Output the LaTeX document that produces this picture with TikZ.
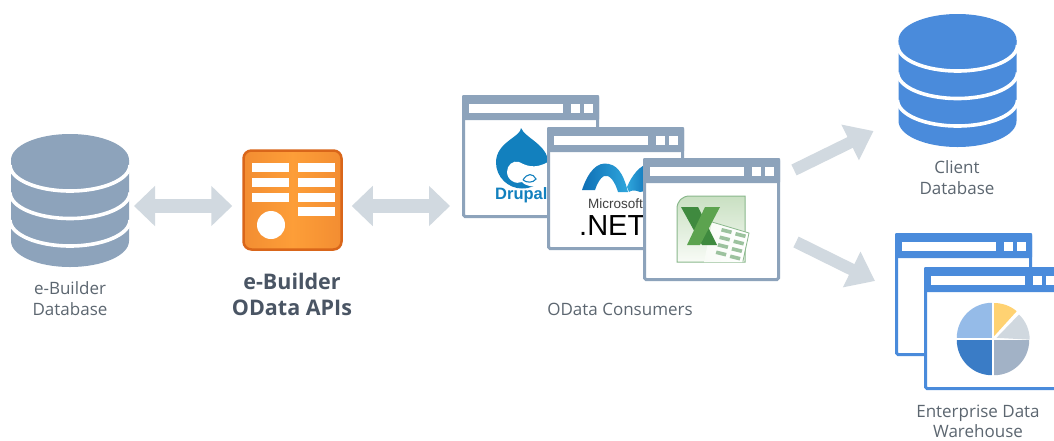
\documentclass[tikz,border=0pt]{standalone}
\usepackage{fontspec}
\setmainfont{Open Sans}
\newfontfamily\logofont{Liberation Sans}
\usetikzlibrary{arrows.meta,calc,shapes.geometric}
\definecolor{slateblue}{HTML}{8DA3BB}
\definecolor{brightblue}{HTML}{4A8BDB}
\definecolor{arrowgray}{HTML}{D1D9E0}
\definecolor{labelgray}{HTML}{5C6670}
\definecolor{labeldark}{HTML}{4A5564}
\definecolor{drupalblue}{HTML}{1280BE}
\definecolor{netlight}{HTML}{2FA6DC}
\definecolor{netdark}{HTML}{0F6FB5}
\definecolor{orangeedge}{HTML}{D9661A}
\definecolor{orangedark}{HTML}{E87C2C}
\definecolor{orangelight}{HTML}{FD9E38}
\definecolor{pielight}{HTML}{95BBE8}
\definecolor{piedark}{HTML}{3A7CC6}
\definecolor{pieslate}{HTML}{A2B2C6}
\definecolor{pieyellow}{HTML}{FFD272}
\definecolor{piegray}{HTML}{D0D8DF}
\definecolor{xlline}{HTML}{8AB88C}
\definecolor{xltop}{HTML}{C9E0C2}
\definecolor{xlbottom}{HTML}{F8FBF6}
\definecolor{xlbar}{HTML}{9CC29E}
\definecolor{xldark}{HTML}{3F8A3F}
\definecolor{xlmid}{HTML}{5CA34F}
\tikzset{
  stdlabel/.style={text=labelgray,align=center,inner sep=0pt,font=\fontsize{17}{21}\selectfont},
  boldlabel/.style={text=labeldark,align=center,inner sep=0pt,font=\fontsize{21.5}{26}\selectfont\bfseries},
  twoway/.style={draw=arrowgray,line width=14pt,{Triangle[length=21pt,width=39pt]}-{Triangle[length=21pt,width=39pt]}},
  oneway/.style={draw=arrowgray,line width=12pt,-{Triangle[length=26pt,width=38pt]}},
  apibar/.style={fill=white},
  ghost/.style={inner sep=0pt,outer sep=0pt},
  winframe/.style={draw=#1,fill=white,line width=3pt,rounded corners=1.5pt,inner sep=0pt,outer sep=1.5pt,minimum width=134pt,minimum height=120pt},
}
\newcommand{\dbicon}[4]{% name, x of centre, y of top ellipse centre, colour
  \begin{scope}[shift={(#2,#3)}]
    \fill[#4] (-59,0) -- (-59,81) arc[start angle=180,end angle=0,x radius=59,y radius=26] -- (59,0) -- cycle;
    \fill[#4] (0,0) ellipse[x radius=59,y radius=26];
    \foreach \dy in {5,32.5,60}
      \draw[white,line width=3.6pt] (-60,\dy) arc[start angle=180,end angle=0,x radius=60,y radius=26];
    \node[ghost,minimum width=118pt,minimum height=133pt] (#1) at (0,40.5) {};
  \end{scope}
}
\newcommand{\winicon}[4]{% name, left, top, colour
  \begin{scope}[shift={(#2,#3)}]
    \node[winframe=#4] (#1) at (68.5,61.5) {};
    \fill[#4,rounded corners=1pt] (0,0) rectangle (137,25);
    \fill[white] (7,9) rectangle (101,18);
    \fill[white] (109,9) rectangle (117.5,18);
    \fill[white] (122,9) rectangle (131,18);
  \end{scope}
}
\begin{document}
\begin{tikzpicture}[x=1pt,y=-1pt]
\clip (0,0) rectangle (1054,440);
\fill[white] (0,0) rectangle (1054,440);

% e-Builder database
\dbicon{edb}{70}{160}{slateblue}
\node[stdlabel] (edblabel) at (70,298.5) {e-Builder\\Database};

% API tile
\begin{scope}
  \clip[rounded corners=8pt] (243.5,150.5) rectangle (341.5,249.5);
  \shade[shift={(292.5,200)},rotate=-45,left color=orangedark,right color=orangedark,middle color=orangelight] (-68,-72) rectangle (68,72);
\end{scope}
\node[draw=orangeedge,line width=2.5pt,rounded corners=8pt,minimum width=98pt,minimum height=99pt,inner sep=0pt,outer sep=1.25pt] (api) at (292.5,200) {};
\foreach \yy in {163,178,193}
  \fill[apibar] (252,\yy) rectangle (289,\yy+8.5);
\foreach \yy in {163,178,193,207}
  \fill[apibar] (298,\yy) rectangle (334.5,\yy+8.5);
\fill[white] (271,225) circle[radius=14];
\node[boldlabel] (apilabel) at (292,294) {e-Builder\\OData APIs};

% consumers
\winicon{wdrupal}{462}{95}{slateblue}
\fill[drupalblue] (521,128) .. controls (521,137) and (496,142) .. (496,162.5)
   .. controls (496,177) and (508,188.5) .. (522,188.5)
   .. controls (538,188.5) and (548,177) .. (548,162.5)
   .. controls (548,145) and (525,138) .. (521,128) -- cycle;
\fill[white] (507,172) .. controls (507,165) and (513,160) .. (519,162)
   .. controls (525,165) and (534,170) .. (548,162) -- (548,186)
   .. controls (535,188) and (525,186) .. (522,182)
   .. controls (516,185) and (507,180) .. (507,172) -- cycle;
\draw[drupalblue,line width=1.1pt] (523,180) .. controls (527,173) and (533,173) .. (536,179) .. controls (533,183) and (527,183) .. (523,180);
\node[text=drupalblue,inner sep=0pt,anchor=west,font=\logofont\fontsize{16.5}{17}\selectfont\bfseries] (drupalword) at (495,195) {Drupal};

\winicon{wnet}{547}{127}{slateblue}
\shade[left color=netdark,right color=netlight] (582,190) .. controls (588,172) and (597,161) .. (609,164)
   .. controls (620,166) and (625,180) .. (628,192) -- (618,192)
   .. controls (615,182) and (610,174) .. (604,176)
   .. controls (600,178) and (597,184) .. (595,190) -- cycle;
\shade[left color=netlight,right color=netdark] (627,187) .. controls (632,175) and (640,165) .. (650,163) -- (650,190) -- (640,192) .. controls (636,190) and (631,190) .. (629,192) -- cycle;
\node[text=black!75,inner sep=0pt,anchor=base west,font=\logofont\fontsize{13.5}{14}\selectfont] (msword) at (588,208) {Microsoft};
\node[text=black,inner sep=0pt,anchor=base west,font=\logofont\fontsize{29}{30}\selectfont] (netword) at (579,235) {.NET};

\winicon{wexcel}{643}{158}{slateblue}
\shade[top color=xltop,bottom color=xlbottom,draw=xlline,line width=1pt]
   (690,196) -- (745,196) -- (745,262) -- (677,262) -- (677,209) .. controls (677,201) and (682,196) .. (690,196) -- cycle;
\shade[left color=xlbottom,right color=white] (712,222) -- (749,233) -- (742,262) -- (704,262) -- cycle;
\draw[xlline,line width=.8pt] (712,222) -- (749,233) -- (743,261);
\foreach \i in {0,1,2,3}
  \foreach \j in {0,1}
    \fill[xlbar] ($(722,228)+(\j*14,\j*4)+(-\i*1.8,\i*7.5)$) -- ++(10,2.5) -- ++(-1,3.5) -- ++(-10,-2.5) -- cycle;
\fill[xldark] (681,207) -- (698,207) -- (717,245) -- (702,245) -- cycle;
\fill[xlmid] (705,207) -- (720,207) -- (700,245) -- (687,245) -- cycle;
\node[stdlabel] (conslabel) at (620,309) {OData Consumers};

% client database
\dbicon{cdb}{957.5}{40}{brightblue}
\node[stdlabel] (cdblabel) at (957,177.5) {Client\\Database};

% warehouse
\winicon{wrear}{895}{233}{brightblue}
\winicon{wfront}{924}{267}{brightblue}
\begin{scope}[shift={(993,339)}]
  \fill[pielight] (-1.2,-1.2) -- (-36.2,-1.2) arc[start angle=180,end angle=270,radius=35] -- cycle;
  \fill[piedark] (-1.2,1.2) -- (-1.2,36.2) arc[start angle=90,end angle=180,radius=35] -- cycle;
  \fill[pieslate] (1.2,1.2) -- (36.2,1.2) arc[start angle=0,end angle=90,radius=35] -- cycle;
  \fill[pieyellow] (1.2,-3) -- (1.2,-36) arc[start angle=270,end angle=310,radius=35] -- cycle;
  \fill[piegray] (3.5,-1.2) -- (26,-24.5) arc[start angle=314,end angle=360,radius=35] -- cycle;
\end{scope}
\node[stdlabel,font=\fontsize{17}{20}\selectfont] (dwlabel) at (978,421) {Enterprise Data\\Warehouse};

% connectors
\draw[twoway] ([xshift=5pt,yshift=-5.5pt]edb.east) -- ([xshift=-10pt,yshift=-6pt]api.west);
\draw[twoway] ([xshift=9pt,yshift=-6pt]api.east) -- ([xshift=-12pt,yshift=-49.5pt]wdrupal.west);
\draw[oneway] ([xshift=14pt,yshift=49.5pt]wexcel.east) -- ([xshift=-25pt,yshift=-50.5pt]cdb.west);
\draw[oneway] ([xshift=16pt,yshift=-22.5pt]wexcel.east) -- ([xshift=-20pt,yshift=13.5pt]wrear.west);
\end{tikzpicture}
\end{document}
